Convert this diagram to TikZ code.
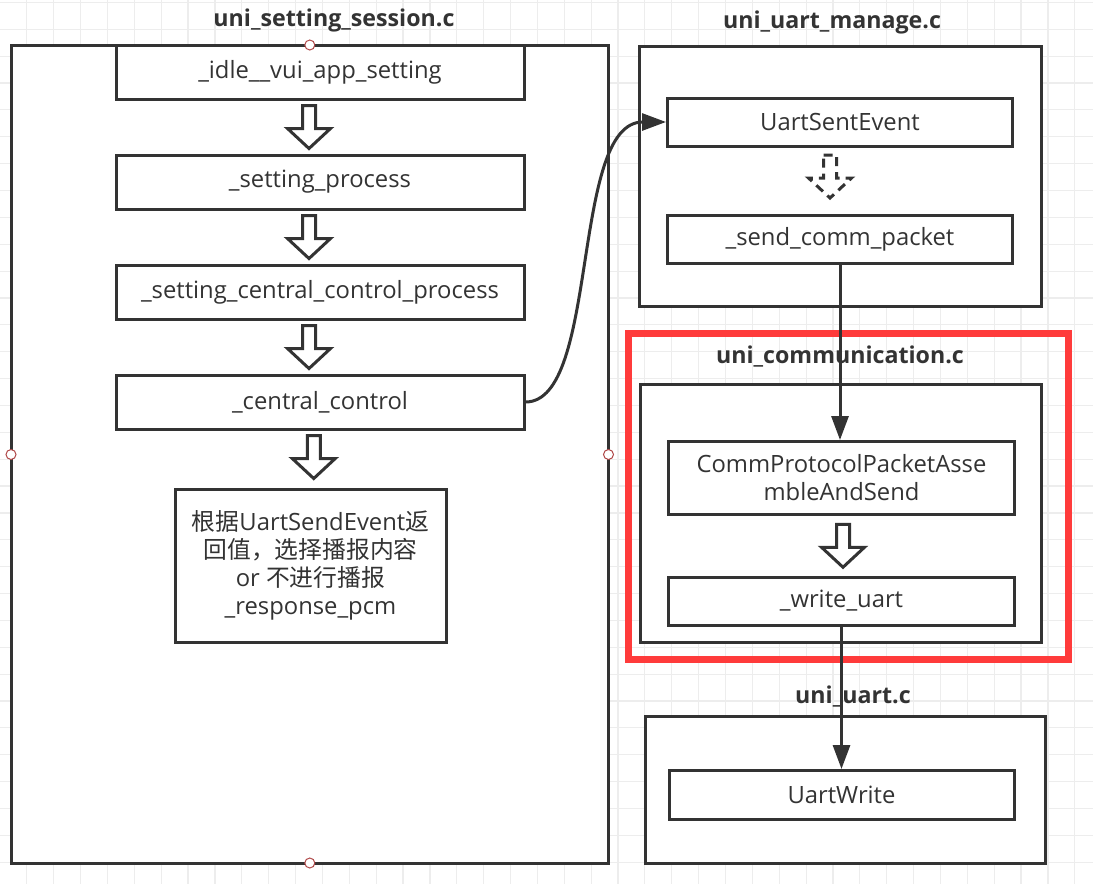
\documentclass[tikz,border=0pt]{standalone}
\usepackage{fontspec}
\setmainfont{Open Sans}
\newfontfamily\cjk{Noto Sans CJK SC}
\usetikzlibrary{arrows.meta,calc}
\definecolor{ink}{HTML}{333333}
\definecolor{gridc}{HTML}{EDEDED}
\definecolor{hl}{HTML}{FF3B3B}
\definecolor{handle}{HTML}{B04848}

\begin{document}
\begin{tikzpicture}[x=1pt,y=-1pt,
  fn/.style={draw=ink, line width=3pt, fill=white, text=ink,
    font=\fontsize{23.8}{28}\selectfont, inner sep=0pt, align=center},
  group/.style={draw=ink, line width=3pt, fill=white},
  title/.style={text=ink, font=\bfseries\fontsize{23.2}{26}\selectfont, inner sep=0pt},
  link/.style={draw=ink, line width=3pt, -{Triangle[length=24pt,width=17pt]}},
  handledot/.style={circle, draw=handle, fill=white, line width=1pt,
    minimum size=10pt, inner sep=0pt},
  hollowarrow/.pic={
    \draw[ink, line width=3pt, fill=white, line join=miter]
      (-6.5,-21.5) -- (6.5,-21.5) -- (6.5,1.5) -- (21.5,1.5) -- (0,21.5)
      -- (-21.5,1.5) -- (-6.5,1.5) -- cycle;
  }
]
\useasboundingbox (0,0) rectangle (1093,884);
\fill[white] (0,0) rectangle (1093,884);

% background grid
\foreach \i in {1,...,40}
  \draw[gridc, line width=1.2pt] (\i*26.87,0) -- (\i*26.87,884);
\foreach \j in {0,...,32}
  \draw[gridc, line width=1.2pt] (0,2.4+\j*26.87) -- (1093,2.4+\j*26.87);

% ---------- uni_setting_session.c ----------
\node[title] (tsession) at (334,20) {uni\_setting\_session.c};
\draw[group] (11,45) rectangle (608.5,863);

\node[fn, minimum width=408pt, minimum height=54pt] (idle) at (320,72) {\_idle\_\_vui\_app\_setting};
\node[fn, minimum width=408pt, minimum height=54pt] (proc) at (320,182) {\_setting\_process};
\node[fn, minimum width=408pt, minimum height=54pt] (ccproc) at (320,292) {\_setting\_central\_control\_process};
\node[fn, minimum width=408pt, minimum height=54pt] (cc) at (320,402) {\_central\_control};
\node[fn, minimum width=271pt, minimum height=153pt] (resp) at (310.5,565.5)
  {{\cjk 根据}UartSendEvent{\cjk 返}\\{\cjk 回值，选择播报内容}\\or {\cjk 不进行播报}\\\_response\_pcm};

\pic at ($(idle.south)!0.5!(proc.north)+(-11,0)$) {hollowarrow};
\pic at ($(proc.south)!0.5!(ccproc.north)+(-11,0)$) {hollowarrow};
\pic at ($(ccproc.south)!0.5!(cc.north)+(-11,0)$) {hollowarrow};
\pic at ($(cc.south)!0.5!(resp.north)+(-1.5,-2)$) {hollowarrow};

% selection handles of the outer frame
\node[handledot] (h1) at (309.8,45) {};
\node[handledot] (h2) at (11,454.5) {};
\node[handledot] (h3) at (608.5,454.5) {};
\node[handledot] (h4) at (309.8,863) {};

% ---------- uni_uart_manage.c ----------
\node[title] (tmanage) at (832,22) {uni\_uart\_manage.c};
\draw[group] (639,46) rectangle (1041,306);
\node[fn, minimum width=345pt, minimum height=48pt] (sent) at (840,122) {UartSentEvent};
\node[fn, minimum width=345pt, minimum height=48pt] (sendpk) at (840,239) {\_send\_comm\_packet};
\pic[dash pattern=on 9pt off 6pt] at ($(sent.south)!0.5!(sendpk.north)+(-10,-4)$) {hollowarrow};

% ---------- uni_communication.c ----------
\draw[hl, line width=7pt] (628,333.5) rectangle (1068,659);
\node[title] (tcomm) at (840,357) {uni\_communication.c};
\draw[group] (640,384) rectangle (1041,642);
\node[fn, minimum width=346pt, minimum height=73pt] (assemble) at (841.5,478)
  {CommProtocolPacketAsse\\mbleAndSend};
\node[fn, minimum width=346pt, minimum height=48pt] (wuart) at (841.5,601) {\_write\_uart};
\pic at ($(assemble.south)!0.5!(wuart.north)+(1.5,0)$) {hollowarrow};

% ---------- uni_uart.c ----------
\node[title] (tuart) at (853,697) {uni\_uart.c};
\draw[group] (645,716) rectangle (1045,863);
\node[fn, minimum width=345pt, minimum height=49pt] (uwrite) at (841.5,795) {UartWrite};

% ---------- connectors ----------
\draw[link] (cc.east) .. controls (600,402) and (570,122) .. (sent.west);
\draw[link] (sendpk.south) -- (sendpk.south |- assemble.north);
\draw[link] (wuart.south) -- (uwrite.north);
\end{tikzpicture}
\end{document}
